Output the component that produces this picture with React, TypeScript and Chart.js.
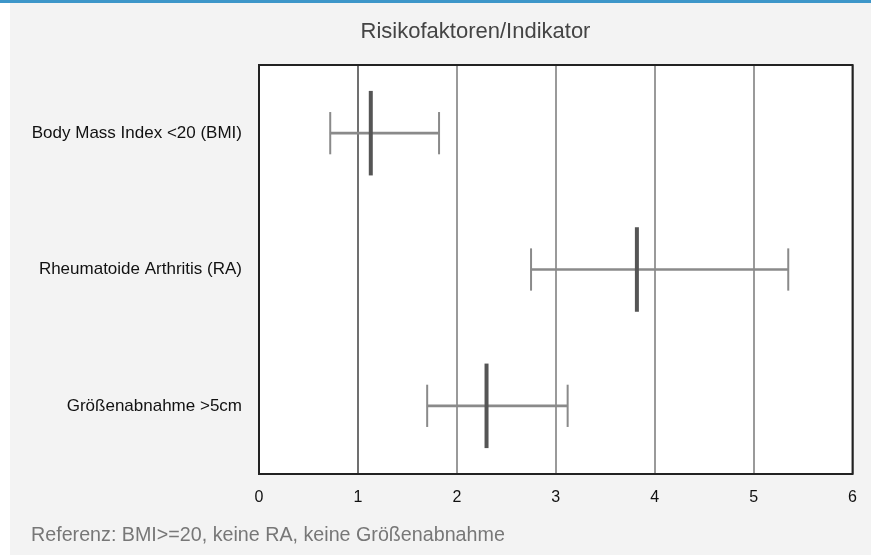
import React, { useEffect, useRef } from "react";
import { Chart, registerables } from "chart.js";

Chart.register(...registerables);

const categories = ["Body Mass Index <20 (BMI)", "Rheumatoide Arthritis (RA)", "Größenabnahme >5cm"];
const estimates = [1.13, 3.82, 2.3];
const lowerCI = [0.72, 2.75, 1.7];
const upperCI = [1.82, 5.35, 3.12];
const xTicks = [0, 1, 2, 3, 4, 5, 6];
const titleText = "Risikofaktoren/Indikator";
const footerText = "Referenz: BMI>=20, keine RA, keine Größenabnahme";

const FONT = "'Liberation Sans', Arial, sans-serif";

const forestPlugin = {
  id: "forest",
  beforeDraw(chart: any) {
    const { ctx, chartArea } = chart;
    ctx.save();
    ctx.fillStyle = "#ffffff";
    ctx.fillRect(chartArea.left, chartArea.top, chartArea.right - chartArea.left, chartArea.bottom - chartArea.top);
    ctx.restore();
  },
  afterDatasetsDraw(chart: any) {
    const { ctx, chartArea } = chart;
    const xs = chart.scales.x;
    const ys = chart.scales.y;
    const band = ys.getPixelForValue(1) - ys.getPixelForValue(0);
    ctx.save();
    categories.forEach((_, i) => {
      const y = ys.getPixelForValue(i);
      ctx.strokeStyle = "#8a8a8a";
      ctx.lineWidth = 2;
      const capH = band * 0.155;
      [lowerCI[i], upperCI[i]].forEach((v) => {
        const x = xs.getPixelForValue(v);
        ctx.beginPath();
        ctx.moveTo(x, y - capH);
        ctx.lineTo(x, y + capH);
        ctx.stroke();
      });
      const estH = band * 0.31;
      const xe = xs.getPixelForValue(estimates[i]);
      ctx.strokeStyle = "#555555";
      ctx.lineWidth = 4;
      ctx.beginPath();
      ctx.moveTo(xe, y - estH);
      ctx.lineTo(xe, y + estH);
      ctx.stroke();
    });
    ctx.strokeStyle = "#222222";
    ctx.lineWidth = 2;
    ctx.strokeRect(chartArea.left, chartArea.top, chartArea.right - chartArea.left, chartArea.bottom - chartArea.top);
    ctx.restore();
  },
  afterDraw(chart: any) {
    const { ctx } = chart;
    ctx.save();
    ctx.textBaseline = "middle";
    ctx.font = `22px ${FONT}`;
    ctx.fillStyle = "#444444";
    ctx.textAlign = "center";
    ctx.fillText(titleText, 465.5, 29);
    ctx.font = `19.7px ${FONT}`;
    ctx.fillStyle = "#777777";
    ctx.textAlign = "left";
    ctx.fillText(footerText, 21, 533);
    ctx.restore();
  },
};

export default function App() {
  const ref = useRef<HTMLCanvasElement | null>(null);
  useEffect(() => {
    if (!ref.current) return;
    const chart = new Chart(ref.current, {
      type: "bar",
      data: {
        labels: categories,
        datasets: [
          {
            data: categories.map((_, i) => [lowerCI[i], upperCI[i]]) as any,
            backgroundColor: "#8a8a8a",
            barThickness: 2,
            borderWidth: 0,
          },
        ],
      },
      options: {
        indexAxis: "y",
        animation: false,
        responsive: true,
        maintainAspectRatio: false,
        layout: { padding: { left: 0, right: 18, top: 62, bottom: 31 } },
        plugins: {
          legend: { display: false },
          tooltip: { enabled: false },
          title: { display: false },
        },
        scales: {
          x: {
            type: "linear",
            min: 0,
            max: 6,
            afterBuildTicks: (axis: any) => {
              axis.ticks = xTicks.map((v) => ({ value: v }));
            },
            afterFit: (axis: any) => {
              axis.height = 50;
            },
            grid: {
              drawTicks: false,
              color: (c: any) => (c.tick && c.tick.value === 1 ? "#707070" : "#9a9a9a"),
              lineWidth: 2,
            },
            border: { display: false },
            ticks: {
              padding: 14,
              color: "#111111",
              font: { family: FONT, size: 16 },
            },
          },
          y: {
            type: "category",
            offset: true,
            afterFit: (axis: any) => {
              axis.width = 249;
            },
            grid: { display: false, drawTicks: false },
            border: { display: false },
            ticks: {
              padding: 17,
              color: "#111111",
              font: { family: FONT, size: 17 },
            },
          },
        },
      },
      plugins: [forestPlugin],
    });
    return () => chart.destroy();
  }, []);

  return (
    <div style={{ position: "absolute", left: 0, top: 0, width: 871, height: 557, background: "#ffffff" }}>
      <div style={{ position: "absolute", left: 0, top: 0, width: 871, height: 3, background: "#3d96c9" }} />
      <div style={{ position: "absolute", left: 10, top: 3, width: 861, height: 552, background: "#f3f3f3" }}>
        <canvas ref={ref} />
      </div>
    </div>
  );
}
